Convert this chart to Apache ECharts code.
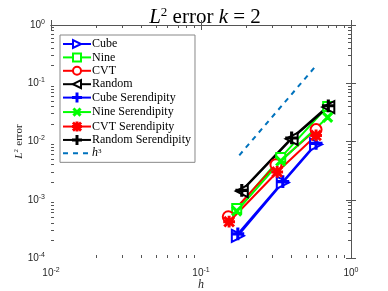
<!DOCTYPE html>
<html>
<head>
<meta charset="utf-8">
<script src="https://cdn.jsdelivr.net/npm/echarts@6/dist/echarts.min.js"></script>
<style>html,body{margin:0;padding:0;background:#fff}#c{width:388px;height:291px}</style>
</head>
<body>
<div id="c"></div>
<script>
// ---- data ----
const cubeH = [0.176, 0.351, 0.585];
const cubeErr = [2.4e-4, 1.97e-3, 8.9e-3];
const nineH = [0.173, 0.340, 0.699];
const nineErr = [7.1e-4, 5.3e-3, 4.0e-2];
const cvtH = [0.152, 0.316, 0.585];
const cvtErr = [5.1e-4, 4.0e-3, 1.6e-2];
const randH = [0.187, 0.402, 0.706];
const randErr = [1.41e-3, 1.11e-2, 3.9e-2];
const cubeSerH = [0.176, 0.351, 0.585];
const cubeSerErr = [2.6e-4, 2.05e-3, 9.3e-3];
const nineSerH = [0.173, 0.340, 0.699];
const nineSerErr = [6.4e-4, 4.6e-3, 2.6e-2];
const cvtSerH = [0.154, 0.322, 0.585];
const cvtSerErr = [4.2e-4, 3.0e-3, 1.27e-2];
const randSerH = [0.187, 0.402, 0.706];
const randSerErr = [1.45e-3, 1.15e-2, 4.1e-2];
const refH = [0.18, 0.575];
const refErr = [0.0058, 0.19];

// tick positions (decades and their 2..9 subdivisions), as data values
const xMinor = [0.02,0.03,0.04,0.05,0.06,0.07,0.08,0.09,0.2,0.3,0.4,0.5,0.6,0.7,0.8,0.9];
const yMinor = [2e-4,3e-4,4e-4,5e-4,6e-4,7e-4,8e-4,9e-4,2e-3,3e-3,4e-3,5e-3,6e-3,7e-3,8e-3,9e-3,
                2e-2,3e-2,4e-2,5e-2,6e-2,7e-2,8e-2,9e-2,0.2,0.3,0.4,0.5,0.6,0.7,0.8,0.9];

const names = ['Cube','Nine','CVT','Random','Cube Serendipity','Nine Serendipity','CVT Serendipity','Random Serendipity','h3'];

function pts(h, e) { return h.map((v, i) => [v, e[i]]); }

const PLUS = 'path://M4.4,0H5.6V4.4H10V5.6H5.6V10H4.4V5.6H0V4.4H4.4Z';
const STAR = 'path://M4.4,0H5.6V4.4H10V5.6H5.6V10H4.4V5.6H0V4.4H4.4Z M1.2,0.4L9.6,8.8L8.8,9.6L0.4,1.2Z M8.8,0.4L9.6,1.2L1.2,9.6L0.4,8.8Z';

const AX = '#555';
const TXT = '#262626';
const serif = '"Liberation Serif","DejaVu Serif",serif';
const sans = '"Liberation Sans","DejaVu Sans",sans-serif';

function powLabel(v) {
  return '{b|10}{s|' + Math.round(Math.log10(v)) + '}';
}
const labRich = {
  b: {fontSize: 10, color: TXT, fontFamily: sans},
  s: {fontSize: 7, color: TXT, fontFamily: sans, padding: [0, 0, 6, 0]}
};

// main log axes (data + labels + major ticks)
function mainAxis(pos, min, max, extra) {
  return Object.assign({
    type: 'log', logBase: 10, min: min, max: max, position: pos,
    splitLine: {show: false},
    axisLine: {show: true, lineStyle: {color: AX, width: 1}},
    axisTick: {show: true, inside: true, length: 5, lineStyle: {color: AX}},
    axisLabel: {show: false},
    z: 10
  }, extra || {});
}
// helper axes in log10 space carrying the minor ticks only
function minorAxis(pos, lo, hi, vals) {
  return {
    type: 'value', min: lo, max: hi, position: pos,
    splitLine: {show: false},
    axisLine: {show: false},
    axisTick: {show: true, inside: true, length: 3, lineStyle: {color: AX},
               customValues: vals.map(v => Math.log10(v))},
    axisLabel: {show: false},
    z: 10
  };
}

const xAxes = [
  mainAxis('bottom', 0.01, 1, {
    axisLabel: {show: true, formatter: powLabel, rich: labRich, margin: 9, showMinLabel: true, showMaxLabel: true},
    name: 'h', nameLocation: 'middle', nameGap: 21, nameMoveOverlap: false,
    nameTextStyle: {fontFamily: serif, fontStyle: 'italic', fontSize: 12, color: TXT}
  }),
  mainAxis('top', 0.01, 1),
  minorAxis('bottom', -2, 0, xMinor),
  minorAxis('top', -2, 0, xMinor)
];
const yAxes = [
  mainAxis('left', 1e-4, 1, {
    axisLabel: {show: true, formatter: powLabel, rich: labRich, margin: 6, showMinLabel: true, showMaxLabel: true},
    name: '{i|L}{s|2} {n|error}', nameLocation: 'middle', nameGap: 26, nameRotate: 90, nameMoveOverlap: false,
    nameTextStyle: {
      rich: {
        i: {fontFamily: serif, fontStyle: 'italic', fontSize: 11, color: TXT},
        s: {fontFamily: serif, fontSize: 7, color: TXT, padding: [0, 0, 5, 0]},
        n: {fontFamily: serif, fontSize: 11, color: TXT}
      }
    }
  }),
  mainAxis('right', 1e-4, 1),
  minorAxis('left', -4, 0, yMinor),
  minorAxis('right', -4, 0, yMinor)
];

function line(name, h, e, color, symbol, size, rotate, dashed) {
  return {
    name: name, type: 'line', xAxisIndex: 0, yAxisIndex: 0,
    data: pts(h, e),
    symbol: symbol, symbolSize: size, symbolRotate: rotate || 0,
    showSymbol: symbol !== 'none',
    lineStyle: {color: color, width: 2, type: dashed ? [5, 5] : 'solid'},
    itemStyle: {color: color, borderColor: color, borderWidth: 1.8},
    emphasis: {disabled: true},
    animation: false
  };
}

const series = [
  line(names[0], cubeH, cubeErr, '#0000ff', 'emptyTriangle', 12, -90),
  line(names[1], nineH, nineErr, '#00ff00', 'emptyRect', 9),
  line(names[2], cvtH, cvtErr, '#ff0000', 'emptyCircle', 11),
  line(names[3], randH, randErr, '#000000', 'emptyTriangle', 12, 90),
  line(names[4], cubeSerH, cubeSerErr, '#0000ff', PLUS, 11),
  line(names[5], nineSerH, nineSerErr, '#00ff00', PLUS, 11, 45),
  line(names[6], cvtSerH, cvtSerErr, '#ff0000', STAR, 10),
  line(names[7], randSerH, randSerErr, '#000000', PLUS, 11),
  line(names[8], refH, refErr, '#0072bd', 'none', 0, 0, true)
];

const legendData = names.map(n => n === 'h3' ? {name: n, itemStyle: {opacity: 0}} : n);

const chart = echarts.init(document.getElementById('c'), null, {renderer: 'canvas'});
chart.setOption({
  backgroundColor: '#fff',
  animation: false,
  title: {
    text: '{i|L}{s|2}{n| error }{i|k}{n| = 2}',
    left: 200, top: 1, textAlign: 'center',
    textStyle: {
      fontWeight: 'normal',
      rich: {
        i: {fontFamily: serif, fontStyle: 'italic', fontWeight: 'normal', fontSize: 21, color: '#000'},
        s: {fontFamily: serif, fontWeight: 'normal', fontSize: 13, color: '#000', padding: [0, 0, 10, 0]},
        n: {fontFamily: serif, fontWeight: 'normal', fontSize: 21, color: '#000'}
      }
    }
  },
  legend: {
    orient: 'vertical', left: 60, top: 35,
    data: legendData,
    itemWidth: 28, itemHeight: 10, itemGap: 1.4,
    padding: [3, 4, 3, 2],
    backgroundColor: '#fff', borderColor: '#888', borderWidth: 1, borderRadius: 0,
    formatter: n => n === 'h3' ? '{i|h}{s|3}' : '{n|' + n + '}',
    textStyle: {
      fontFamily: serif, fontSize: 12, color: '#000', lineHeight: 10, padding: [0, 0, 0, -4],
      rich: {
        n: {fontFamily: serif, fontSize: 12, lineHeight: 10, color: '#000'},
        i: {fontFamily: serif, fontStyle: 'italic', fontSize: 12, lineHeight: 10, color: '#000'},
        s: {fontFamily: serif, fontSize: 7, lineHeight: 8, color: '#000', padding: [0, 0, 4, 0]}
      }
    },
    selectedMode: false
  },
  grid: {left: 51, top: 25, width: 300, height: 233, containLabel: false, outerBoundsMode: 'none'},
  xAxis: xAxes,
  yAxis: yAxes,
  series: series
});
</script>
</body>
</html>
